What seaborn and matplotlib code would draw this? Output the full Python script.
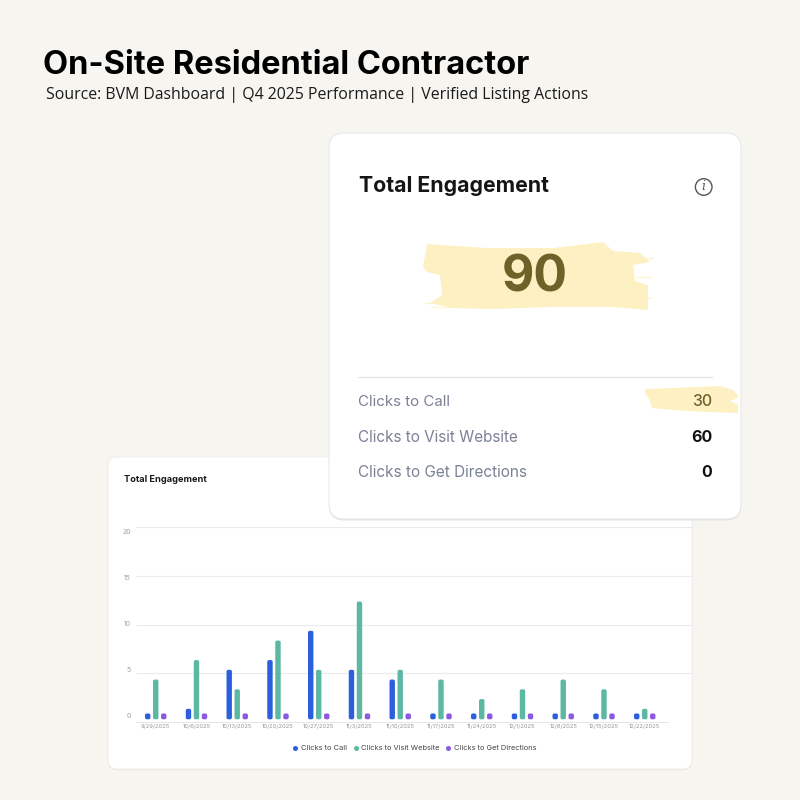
import matplotlib
matplotlib.use("Agg")
import matplotlib.pyplot as plt
from matplotlib.patches import FancyBboxPatch, Polygon, Circle
from matplotlib.lines import Line2D
import pandas as pd
import seaborn as sns

weeks = ["9/29/2025", "10/6/2025", "10/13/2025", "10/20/2025", "10/27/2025", "11/3/2025", "11/10/2025",
         "11/17/2025", "11/24/2025", "12/1/2025", "12/8/2025", "12/15/2025", "12/22/2025"]
calls = [0, 1, 5, 6, 9, 5, 4, 0, 0, 0, 0, 0, 0]
website = [4, 6, 3, 8, 5, 12, 5, 4, 2, 3, 4, 3, 1]
directions = [0, 0, 0, 0, 0, 0, 0, 0, 0, 0, 0, 0, 0]
series_names = ["Clicks to Call", "Clicks to Visit Website", "Clicks to Get Directions"]
series_colors = ["#2B5FDD", "#5CB8A2", "#8A5BE0"]
total_value = "90"
summary_values = ["30", "60", "0"]

BG = "#F6F5F0"
sns.set_style("white")
FONT = "Inter"
plt.rcParams["font.family"] = [FONT, "DejaVu Sans"]

fig = plt.figure(figsize=(8, 8), dpi=100, facecolor=BG)


def overlay(z):
    a = fig.add_axes([0, 0, 1, 1], zorder=z)
    a.set_xlim(0, 800)
    a.set_ylim(800, 0)
    a.axis("off")
    a.patch.set_alpha(0)
    return a


def card(a, x0, y0, x1, y1, r, edge):
    a.add_patch(FancyBboxPatch((x0 + r, y0 + r + 1.5), x1 - x0 - 2 * r, y1 - y0 - 2 * r,
                               boxstyle=f"round,pad={r}", fc=edge, ec="none"))
    a.add_patch(FancyBboxPatch((x0 + r, y0 + r), x1 - x0 - 2 * r, y1 - y0 - 2 * r,
                               boxstyle=f"round,pad={r}", fc="white", ec=edge, lw=0.6))


def fit(a, x, y, s, width, **kw):
    """Place text, sized so that it spans the given pixel width."""
    t = a.text(x, y, s, **kw)
    w = t.get_window_extent(fig.canvas.get_renderer()).width
    t.set_fontsize(t.get_fontsize() * width / w)
    return t


# ---------- background layer ----------
bg = overlay(0)
card(bg, 108, 457, 692, 769, 9, "#ECEBE6")
fit(bg, 43, 65, "On-Site Residential Contractor", 488, fontweight="bold", color="black", va="center", fontsize=20)
fit(bg, 46, 95, "Source: BVM Dashboard | Q4 2025 Performance | Verified Listing Actions", 545,
    family=["Open Sans", "DejaVu Sans"], color="#1a1a1a", va="center", fontsize=11)
fit(bg, 124, 479, "Total Engagement", 82, fontweight="bold", color="#1a1a1a", va="center", fontsize=6)

# ---------- chart ----------
L, R, T, B = 136, 692, 527, 722
ax = fig.add_axes([L / 800, 1 - B / 800, (R - L) / 800, (B - T) / 800], zorder=1)
ax.patch.set_alpha(0)
df = pd.DataFrame({"week": weeks * 3,
                   "series": sum(([n] * len(weeks) for n in series_names), []),
                   "value": calls + website + directions})
sns.barplot(data=df, x="week", y="value", hue="series", hue_order=series_names, order=weeks,
            palette=series_colors, saturation=1, width=0.59, gap=0.75, legend=False, ax=ax)
for p in ax.patches:
    v = p.get_height()
    p.set_y(0.45)
    p.set_height(max(v - 0.27, 0.25))
    p.set_edgecolor(p.get_facecolor())
    p.set_linewidth(2.45)
    p.set_joinstyle("round")
    p.set_capstyle("round")
    p.set_snap(False)
    p.set_clip_on(False)
    p.set_zorder(3)
ax.set_xlim(-0.484, 13.16)
ax.set_ylim(0, 20)
ax.set_xlabel("")
ax.set_ylabel("")
ax.set_yticks([5, 10, 15, 20])
ax.set_yticklabels([])
ax.grid(axis="y", color="#EBEBEE", lw=0.8)
ax.grid(axis="x", visible=False)
ax.set_axisbelow(True)
for s in ["top", "left", "right"]:
    ax.spines[s].set_visible(False)
ax.spines["bottom"].set_color("#E4E6EC")
ax.spines["bottom"].set_linewidth(0.7)
ax.spines["bottom"].set_bounds(-0.484, 12.57)
ax.tick_params(axis="both", length=0)
ax.tick_params(axis="x", labelsize=4.2, labelcolor="#969696", pad=1.6)

# y labels sit on their own slightly tighter scale, as in the dashboard
axy = ax.twinx()
axy.set_ylim((715 - B) / 9.2, (715 - T) / 9.2)
axy.yaxis.tick_left()
axy.set_yticks([0, 5, 10, 15, 20])
axy.tick_params(axis="y", length=0, labelsize=5.0, labelcolor="#A0A0A0", pad=3.6)
axy.grid(False)
for s in axy.spines.values():
    s.set_visible(False)
axy.patch.set_alpha(0)

handles = [Line2D([], [], ls="", marker="o", ms=2.6, color=c, label=n) for n, c in zip(series_names, series_colors)]
ax.legend(handles=handles, loc="center", bbox_to_anchor=(414 / 800, 1 - 748 / 800),
          bbox_transform=fig.transFigure, ncol=3, frameon=False, fontsize=5.35, labelcolor="#444444",
          handletextpad=0.25, columnspacing=0.7, handlelength=1.0)

# ---------- top card ----------
fg = overlay(2)
card(fg, 329, 133, 741, 519, 15, "#E4E4E1")
BRUSH = "#FDF1C3"
brush_big = [(427, 244), (487, 248), (553, 248), (603, 242), (613, 251), (640, 253), (650, 262), (633, 265),
             (635, 281), (648, 285), (648, 310), (613, 307), (553, 307), (493, 309), (453, 308), (430, 303),
             (442, 295), (440, 275), (427, 272), (423, 267)]
brush_small = [(645, 389), (673, 388), (720, 386), (733, 390), (739, 397), (730, 401), (738, 405), (738, 413),
               (707, 412), (673, 410), (652, 408), (650, 400), (645, 394)]
fg.add_patch(Polygon(brush_big, closed=True, fc=BRUSH, ec="none"))
fg.add_patch(Polygon(brush_small, closed=True, fc=BRUSH, ec="none"))
# dry-brush streaks at the stroke ends
for x0, x1, y in [(424, 445, 303), (432, 470, 306.5), (640, 653, 258), (645, 652, 298), (636, 651, 277)]:
    fg.plot([x0, x1], [y, y], color=BRUSH, lw=1.0, alpha=0.7, solid_capstyle="round")
fit(fg, 359, 186, "Total Engagement", 189, fontweight="bold", color="#151515", va="center", fontsize=15)
fg.add_patch(Circle((703.7, 187), 8.3, fc="none", ec="#555555", lw=1.0))
fg.text(703.7, 187, "i", fontstyle="italic", fontsize=9, color="#555555", ha="center", va="center",
        family=["DejaVu Serif"])
fit(fg, 535, 278, total_value, 66, fontweight="bold", color="#6F6229", ha="center", va="center", fontsize=36)
fg.plot([358, 712], [377.3, 377.3], color="#E3E3E3", lw=0.9)
row_y = [402, 437.5, 472.5]
row_w = [92, 160, 169]
row_col = ["#6F6229", "#111111", "#111111"]
for name, val, y, w, c in zip(series_names, summary_values, row_y, row_w, row_col):
    fit(fg, 358.5, y, name, w, color="#7B8296", va="center", fontsize=11)
    fg.text(712, y, val, color=c, ha="right", va="center", fontsize=11.5,
            fontweight="bold" if c == "#111111" else "medium")

fig.savefig("out.png", dpi=100, facecolor=BG)
